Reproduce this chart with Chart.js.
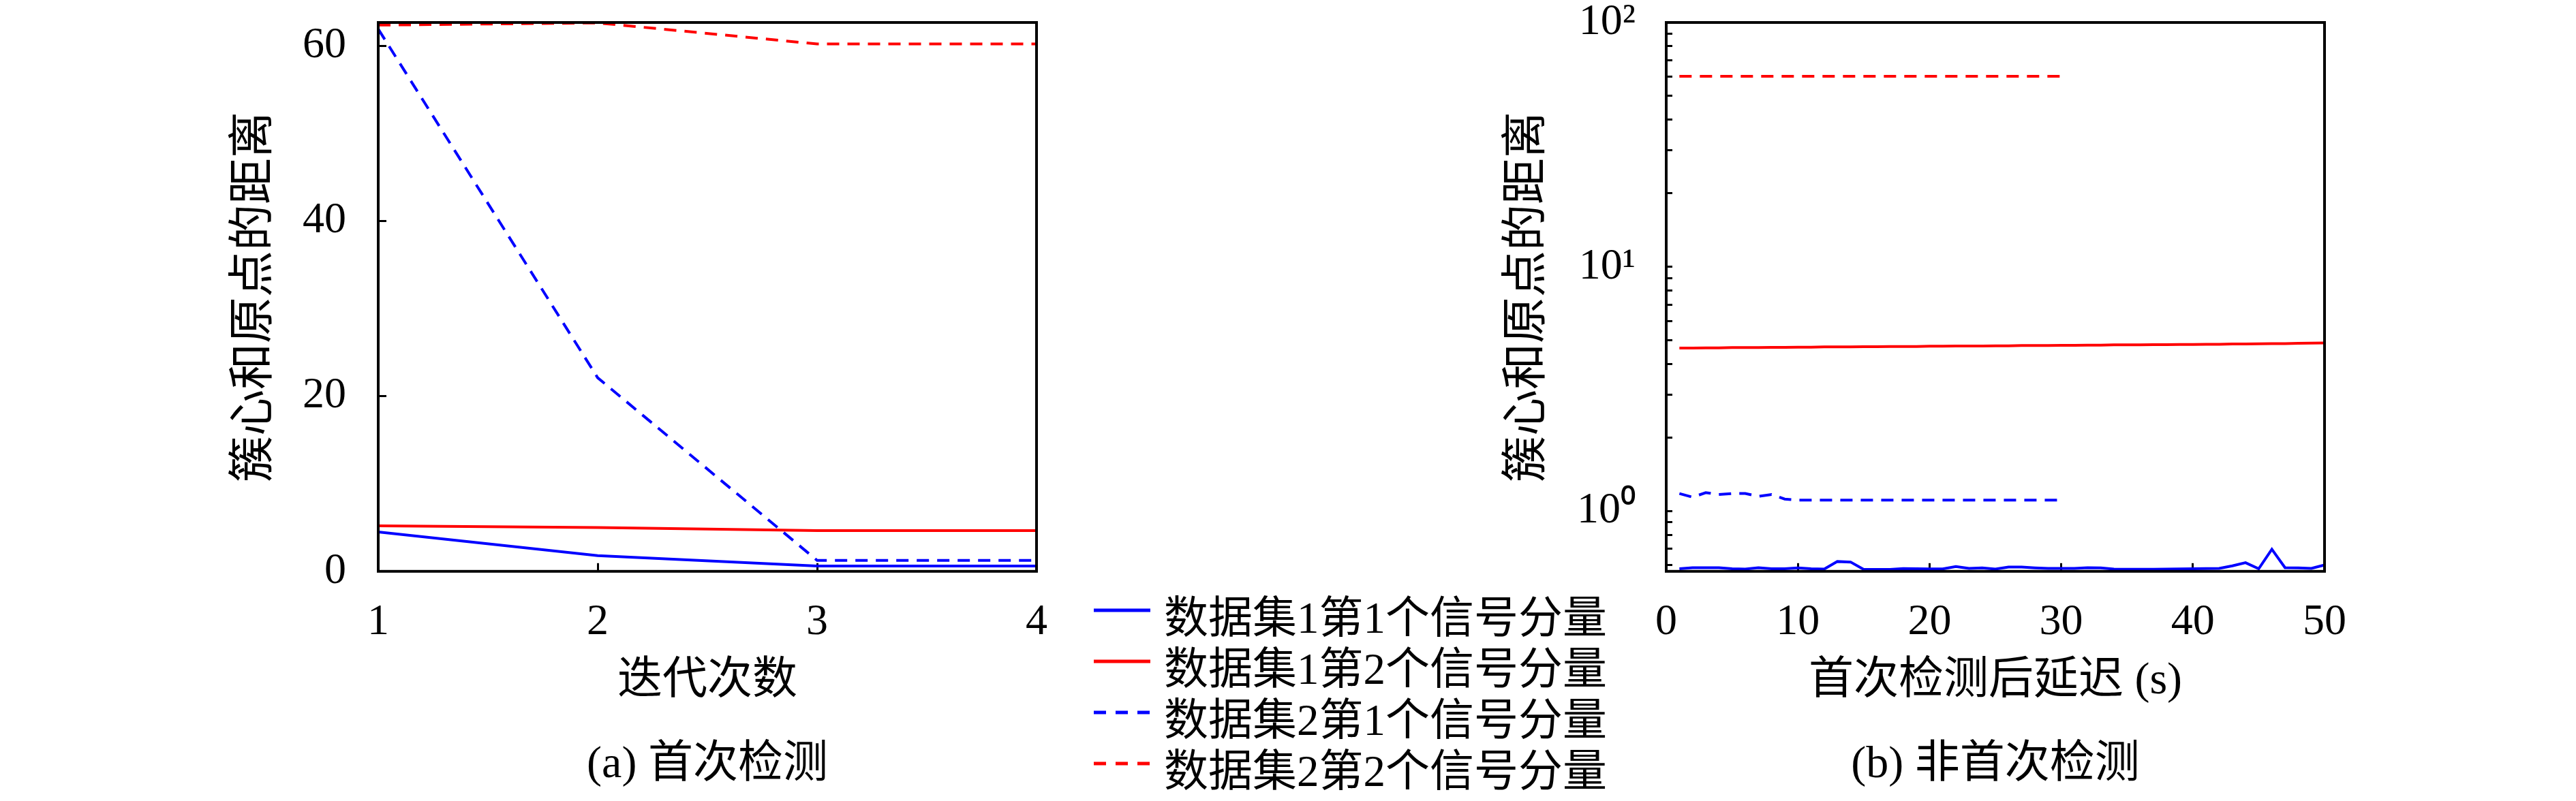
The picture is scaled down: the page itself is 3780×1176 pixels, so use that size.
<!DOCTYPE html>
<html>
<head>
<meta charset="utf-8">
<script src="https://cdn.jsdelivr.net/npm/chart.js@4.4.1/dist/chart.umd.min.js"></script>
<style>
  body { margin: 0; width: 3780px; height: 1176px; background: #fff; position: relative; overflow: hidden; }
  .box { position: absolute; top: 0; height: 1176px; }
  #legend { position: absolute; left: 1605px; top: 863px; font: 65px 'Liberation Serif', 'Noto Sans CJK SC'; color: #000; }
  .row { height: 75px; display: flex; align-items: center; white-space: nowrap; }
  .row svg { margin-right: 20px; position: relative; top: -5px; }
</style>
</head>
<body>
<div class="box" style="left:250px;width:1574px"><canvas id="left"></canvas></div>
<div class="box" style="left:2110px;width:1638px"><canvas id="right"></canvas></div>
<div id="legend"></div>
<script>
const seriesNames = ['数据集1第1个信号分量', '数据集1第2个信号分量', '数据集2第1个信号分量', '数据集2第2个信号分量'];
const seriesColors = ['#0000ff', '#ff0000', '#0000ff', '#ff0000'];
const seriesDashed = [false, false, true, true];

// (a) 首次检测
const iterations = [1, 2, 3, 4];
const iterSet1Sig1 = [4.5, 1.8, 0.6, 0.6];
const iterSet1Sig2 = [5.2, 5.0, 4.65, 4.65];
const iterSet2Sig1 = [61.9, 22.1, 1.25, 1.25];
const iterSet2Sig2 = [62.35, 62.6, 60.2, 60.2];
const iterYTicks = [0, 20, 40, 60];
const iterXTicks = [1, 2, 3, 4];

// (b) 非首次检测
const delays = [1, 2, 3, 4, 5, 6, 7, 8, 9, 10, 11, 12, 13, 14, 15, 16, 17, 18, 19, 20,
  21, 22, 23, 24, 25, 26, 27, 28, 29, 30, 31, 32, 33, 34, 35, 36, 37, 38, 39, 40,
  41, 42, 43, 44, 45, 46, 47, 48, 49, 50];
const delaySet1Sig1 = [0.581, 0.587, 0.587, 0.587, 0.581, 0.579, 0.587, 0.581, 0.581, 0.586,
  0.581, 0.579, 0.622, 0.619, 0.577, 0.577, 0.577, 0.582, 0.581, 0.580,
  0.580, 0.593, 0.583, 0.586, 0.579, 0.590, 0.590, 0.586, 0.583, 0.583,
  0.583, 0.587, 0.586, 0.579, 0.578, 0.578, 0.578, 0.579, 0.580, 0.581,
  0.582, 0.583, 0.597, 0.615, 0.581, 0.698, 0.587, 0.586, 0.583, 0.602];
const delaySet1Sig2 = [4.65, 4.65, 4.66, 4.66, 4.67, 4.67, 4.67, 4.68, 4.68, 4.69,
  4.69, 4.70, 4.70, 4.70, 4.71, 4.71, 4.72, 4.72, 4.72, 4.73,
  4.73, 4.74, 4.74, 4.74, 4.75, 4.75, 4.76, 4.76, 4.76, 4.77,
  4.77, 4.78, 4.78, 4.79, 4.79, 4.79, 4.80, 4.80, 4.81, 4.81,
  4.82, 4.82, 4.83, 4.83, 4.84, 4.85, 4.85, 4.86, 4.87, 4.88];
const delaySet2Sig1 = [1.18, 1.14, 1.19, 1.17, 1.18, 1.18, 1.15, 1.17, 1.12, 1.11,
  1.11, 1.11, 1.11, 1.11, 1.11, 1.11, 1.11, 1.11, 1.11, 1.11,
  1.11, 1.11, 1.11, 1.11, 1.11, 1.11, 1.11, 1.11, 1.11, 1.11];
const delaySet2Sig2 = [60.2, 60.2, 60.2, 60.2, 60.2, 60.2, 60.2, 60.2, 60.2, 60.2,
  60.2, 60.2, 60.2, 60.2, 60.2, 60.2, 60.2, 60.2, 60.2, 60.2,
  60.2, 60.2, 60.2, 60.2, 60.2, 60.2, 60.2, 60.2, 60.2, 60.2];
const delayXTicks = [0, 10, 20, 30, 40, 50];
const logTicks = [0.6, 0.7, 0.8, 0.9, 1, 2, 3, 4, 5, 6, 7, 8, 9, 10, 20, 30, 40, 50, 60, 70, 80, 90, 100];
const logTickLabels = {1: '10⁰', 10: '10¹', 100: '10²'};

const serif = "'Liberation Serif', 'Noto Sans CJK SC'";
Chart.defaults.font.family = serif;
Chart.defaults.color = '#000';

const frame = {
    id: 'frame',
    afterDraw(chart) {
        const {ctx, chartArea: a} = chart;
        ctx.save();
        ctx.strokeStyle = '#000';
        ctx.lineWidth = 4;
        ctx.strokeRect(a.left, a.top, a.right - a.left, a.bottom - a.top);
        ctx.restore();
    }
};

function makeDatasets(xs, series) {
    return series.map((vals, i) => ({
        label: seriesNames[i],
        data: vals.map((v, j) => ({x: xs[j], y: v})),
        borderColor: seriesColors[i],
        backgroundColor: seriesColors[i],
        borderWidth: 4,
        borderDash: seriesDashed[i] ? [18, 12] : [],
        pointRadius: 0,
        tension: 0,
        clip: false
    }));
}

const tickGrid = {
    display: true,
    drawOnChartArea: false,
    drawTicks: true,
    tickLength: -12,
    color: '#000',
    lineWidth: 3
};

function noPad(scale) {
    scale.paddingTop = 0;
    scale.paddingBottom = 0;
    scale.paddingLeft = 0;
    scale.paddingRight = 0;
}

function makeChart(id, cfg) {
    new Chart(document.getElementById(id), {
        type: 'line',
        data: {datasets: cfg.datasets},
        plugins: [frame],
        options: {
            responsive: true,
            maintainAspectRatio: false,
            animation: false,
            layout: {padding: {top: 33, right: cfg.padRight, left: 0, bottom: 0}},
            plugins: {
                legend: {display: false},
                tooltip: {enabled: false},
                title: {
                    display: true,
                    position: 'bottom',
                    fullSize: false, // centre the caption under the plot, not the canvas
                    text: cfg.caption,
                    font: {size: 66, weight: 'normal', family: serif},
                    color: '#000',
                    padding: {top: 20, bottom: 13}
                }
            },
            scales: {
                x: {
                    type: 'linear',
                    min: cfg.xMin,
                    max: cfg.xMax,
                    border: {display: false},
                    grid: tickGrid,
                    afterBuildTicks: s => { s.ticks = cfg.xTicks.map(v => ({value: v})); },
                    afterFit: s => { noPad(s); s.height = 225; },
                    ticks: {
                        autoSkip: false,
                        maxRotation: 0,
                        padding: 49,
                        font: {size: 64},
                        callback: v => String(v)
                    },
                    title: {
                        display: true,
                        text: cfg.xTitle,
                        font: {size: 66},
                        padding: {top: 0, bottom: 24}
                    }
                },
                y: cfg.yScale
            }
        }
    });
}

makeChart('left', {
    datasets: makeDatasets(iterations, [iterSet1Sig1, iterSet1Sig2, iterSet2Sig1, iterSet2Sig2]),
    caption: '(a) 首次检测',
    xTitle: '迭代次数',
    xMin: 1,
    xMax: 4,
    xTicks: iterXTicks,
    padRight: 303,
    yScale: {
        type: 'linear',
        min: 0,
        max: 62.65,
        border: {display: false},
        grid: tickGrid,
        afterBuildTicks: s => { s.ticks = iterYTicks.map(v => ({value: v})); },
        afterFit: s => { noPad(s); s.width = 305; },
        ticks: {autoSkip: false, padding: 59, font: {size: 64}, callback: v => String(v)},
        title: {display: true, text: '簇心和原点的距离', font: {size: 68}, padding: {top: 84, bottom: 0}}
    }
});

makeChart('right', {
    datasets: makeDatasets(delays, [delaySet1Sig1, delaySet1Sig2, delaySet2Sig1, delaySet2Sig2]),
    caption: '(b) 非首次检测',
    xTitle: '首次检测后延迟 (s)',
    xMin: 0,
    xMax: 50,
    xTicks: delayXTicks,
    padRight: 337,
    yScale: {
        type: 'logarithmic',
        min: 0.567,
        max: 100,
        border: {display: false},
        grid: Object.assign({}, tickGrid, {tickLength: -9}),
        afterBuildTicks: s => { s.ticks = logTicks.map(v => ({value: v})); },
        afterFit: s => { noPad(s); s.width = 335; },
        ticks: {autoSkip: false, padding: 54, font: {size: 64}, callback: v => logTickLabels[v] || ''},
        title: {display: true, text: '簇心和原点的距离', font: {size: 68}, padding: {top: 92, bottom: 0}}
    }
});

document.getElementById('legend').innerHTML = seriesNames.map((name, i) => `
    <div class="row">
        <svg width="83" height="10"><line x1="0" y1="5" x2="83" y2="5" stroke="${seriesColors[i]}" stroke-width="5"
            ${seriesDashed[i] ? 'stroke-dasharray="18 14"' : ''}/></svg>
        <span>${name}</span>
    </div>`).join('');
</script>
</body>
</html>
